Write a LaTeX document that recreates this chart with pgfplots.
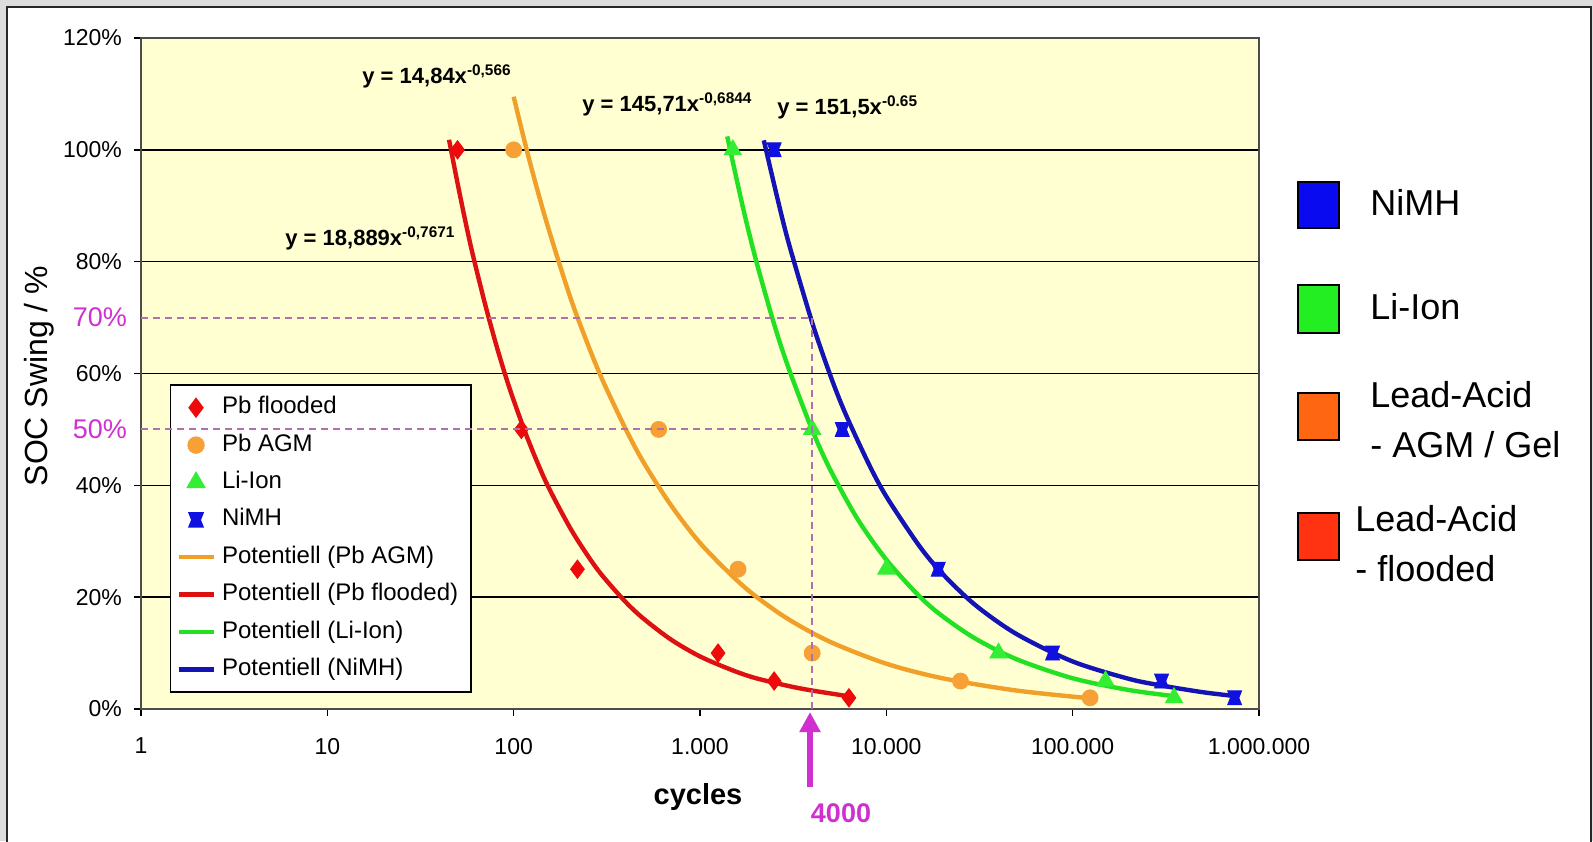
\documentclass[border=0pt]{standalone}
\usepackage{fontspec}
\setmainfont{Liberation Sans}
\usepackage{pgfplots}
\pgfplotsset{compat=1.18}
\usetikzlibrary{arrows.meta}

\definecolor{plotbg}{HTML}{FFFFD2}
\definecolor{framegray}{HTML}{DCDCDC}
\definecolor{redline}{HTML}{DD1111}
\definecolor{redmark}{HTML}{EE0A0A}
\definecolor{agmline}{HTML}{F0A028}
\definecolor{agmmark}{HTML}{F7A035}
\definecolor{liline}{HTML}{22E022}
\definecolor{limark}{HTML}{33EE33}
\definecolor{nimhline}{HTML}{1414B4}
\definecolor{nimhmark}{HTML}{1010E0}
\definecolor{magtxt}{HTML}{D030D0}
\definecolor{magdash}{HTML}{B070B0}
\definecolor{keyblue}{HTML}{0A0AF0}
\definecolor{keygreen}{HTML}{22EE22}
\definecolor{keyorange}{HTML}{FF6611}
\definecolor{keyred}{HTML}{FF3311}

% hourglass marker for NiMH
\pgfdeclareplotmark{hourglass}{%
  \pgfpathmoveto{\pgfqpoint{-\pgfplotmarksize}{\pgfplotmarksize}}%
  \pgfpathlineto{\pgfqpoint{\pgfplotmarksize}{\pgfplotmarksize}}%
  \pgfpathlineto{\pgfqpoint{0.6\pgfplotmarksize}{0pt}}%
  \pgfpathlineto{\pgfqpoint{\pgfplotmarksize}{-\pgfplotmarksize}}%
  \pgfpathlineto{\pgfqpoint{-\pgfplotmarksize}{-\pgfplotmarksize}}%
  \pgfpathlineto{\pgfqpoint{-0.6\pgfplotmarksize}{0pt}}%
  \pgfpathclose
  \pgfusepathqfillstroke}

\begin{document}
\begin{tikzpicture}[x=0.5pt,y=0.5pt]
\useasboundingbox (0,0) rectangle (1593,841);
\fill[framegray] (0,0) rectangle (1593,841);
\filldraw[fill=white, draw=black!85, line width=1.2pt] (7,-10) rectangle (1591,834);
\coordinate (origin) at (141,132);

\begin{axis}[
  at={(origin)}, anchor=south west, scale only axis,
  width=559pt, height=335.5pt,
  xmode=log, xmin=1, xmax=1000000, ymin=0, ymax=120,
  xminorticks=false,
  axis background/.style={fill=plotbg},
  axis line style={draw=black!70, line width=1pt},
  xtick={1,10,100,1000,10000,100000,1000000},
  xticklabels={1,10,100,1.000,10.000,100.000,1.000.000},
  ytick={0,20,40,60,80,100,120},
  yticklabels={0\%,20\%,40\%,60\%,80\%,100\%,120\%},
  tick align=outside, xtick pos=left, ytick pos=left,
  major tick length=3.5pt,
  tick style={black, line width=0.8pt},
  ymajorgrids, grid style={black, line width=0.7pt},
  ticklabel style={font=\fontsize{11.5}{13}\selectfont},
  yticklabel style={xshift=-2.5pt},
  xticklabel style={yshift=-7.5pt},
  extra y ticks={50,70},
  extra y tick labels={50\%,70\%},
  extra y tick style={grid=none, major tick length=0pt,
    yticklabel style={text=magtxt, font=\fontsize{13.5}{15}\selectfont, xshift=-1pt}},
  legend cell align=left,
  legend style={at={(0.026,0.024)}, anchor=south west, draw=black, fill=white,
    line width=0.7pt, font=\fontsize{12}{14}\selectfont,
    nodes={text height=9pt, text depth=3pt, inner sep=3.35pt}},
]
\addplot[only marks, mark=diamond*, mark size=4.6pt, color=redmark]
  coordinates {(50,100) (110,50) (220,25) (1250,10) (2500,5) (6300,2)};
\addlegendentry{Pb flooded}
\addplot[only marks, mark=*, mark size=4pt, color=agmmark]
  coordinates {(100,100) (600,50) (1600,25) (4000,10) (25000,5) (124000,2)};
\addlegendentry{Pb AGM}
\addplot[only marks, mark=triangle*, mark size=5pt, color=limark]
  coordinates {(1500,100) (4000,50) (10000,25) (40000,10) (150000,5) (350000,2)};
\addlegendentry{Li-Ion}
\addplot[only marks, mark=hourglass, mark size=3.5pt, color=nimhmark]
  coordinates {(2500,100) (5800,50) (19000,25) (78000,10) (300000,5) (740000,2)};
\addlegendentry{NiMH}

% trend lines (Potentiell)
\addplot[smooth, line width=2.2pt, color=agmline] coordinates {
  (100,109.5) (120,98.8) (150,87.1) (200,73.9) (250,65.2) (300,58.8)
  (400,50.0) (500,44.0) (700,36.4) (1000,29.7) (1500,23.7) (2000,20.1)
  (3000,16.0) (5000,12.0) (10000,8.1) (20000,5.5) (50000,3.3) (125000,1.9)};
\addlegendentry{Potentiell (Pb AGM)}
\addplot[smooth, line width=2.2pt, color=redline] coordinates {
  (45,101.8) (50,94.0) (55,87.3) (60,81.6) (70,72.6) (80,65.5) (90,59.8)
  (100,55.2) (120,48.0) (150,40.4) (200,32.5) (250,27.4) (300,23.8)
  (400,19.1) (500,16.1) (700,12.4) (1000,9.4) (1500,6.9) (2000,5.5)
  (3000,4.1) (4000,3.3) (6500,2.2)};
\addlegendentry{Potentiell (Pb flooded)}
\addplot[smooth, line width=2.2pt, color=liline] coordinates {
  (1400,102.4) (1700,89.7) (2000,80.2) (2500,68.8) (3000,60.8) (4000,49.9)
  (5000,42.8) (7000,34.0) (10000,26.7) (15000,20.2) (20000,16.6)
  (30000,12.6) (50000,8.9) (100000,5.5) (200000,3.4) (350000,2.3)};
\addlegendentry{Potentiell (Li-Ion)}
\addplot[smooth, line width=2.2pt, color=nimhline] coordinates {
  (2200,101.7) (2600,91.4) (3000,83.2) (4000,69.1) (5000,59.7) (6000,53.0)
  (8000,44.0) (10000,38.0) (15000,29.2) (20000,24.2) (30000,18.6)
  (50000,13.4) (100000,8.5) (200000,5.4) (300000,4.2) (500000,3.0)
  (750000,2.3)};
\addlegendentry{Potentiell (NiMH)}

\coordinate (a70) at (axis cs:1,70);
\coordinate (b70) at (axis cs:4000,70);
\coordinate (a50) at (axis cs:1,50);
\coordinate (b50) at (axis cs:4000,50);
\coordinate (b0) at (axis cs:4000,0);
\end{axis}

% guide lines at 4000 cycles
\draw[magdash, line width=1pt, dash pattern=on 3.5pt off 2.5pt] (a70) -- (b70) -- (b0);
\draw[magdash, line width=1pt, dash pattern=on 3.5pt off 2.5pt] (a50) -- (b50);
\draw[magtxt, line width=3pt, -{Triangle[width=10pt,length=10pt]}] (810,54) -- (810,129);
\node[text=magtxt, font=\fontsize{13.5}{15}\selectfont\bfseries] at (841,28) {4000};

% fit equations
\begin{scope}[every node/.style={anchor=west, font=\fontsize{11}{13}\selectfont\bfseries, inner sep=0pt}]
\node at (362,765) {y = 14,84x\textsuperscript{-0,566}};
\node at (285,603) {y = 18,889x\textsuperscript{-0,7671}};
\node at (582,737) {y = 145,71x\textsuperscript{-0,6844}};
\node at (777,734) {y = 151,5x\textsuperscript{-0.65}};
\end{scope}

% axis titles
\node[rotate=90, font=\fontsize{16}{18}\selectfont] at (39,465) {SOC Swing / \%};
\node[font=\fontsize{14.5}{16}\selectfont\bfseries] at (698,44) {cycles};

% technology key
\begin{scope}[every node/.style={anchor=west, align=left, inner sep=0pt, font=\fontsize{18}{25}\selectfont}]
\filldraw[fill=keyblue, draw=black, line width=1pt] (1298,613) rectangle (1339,659);
\node at (1370,639) {NiMH};
\filldraw[fill=keygreen, draw=black, line width=1pt] (1298,508) rectangle (1339,556);
\node at (1370,534) {Li-Ion};
\filldraw[fill=keyorange, draw=black, line width=1pt] (1298,401) rectangle (1339,448);
\node at (1370,421) {Lead-Acid\\- AGM / Gel};
\filldraw[fill=keyred, draw=black, line width=1pt] (1298,281) rectangle (1339,328);
\node at (1355,297) {Lead-Acid\\- flooded};
\end{scope}
\end{tikzpicture}
\end{document}
